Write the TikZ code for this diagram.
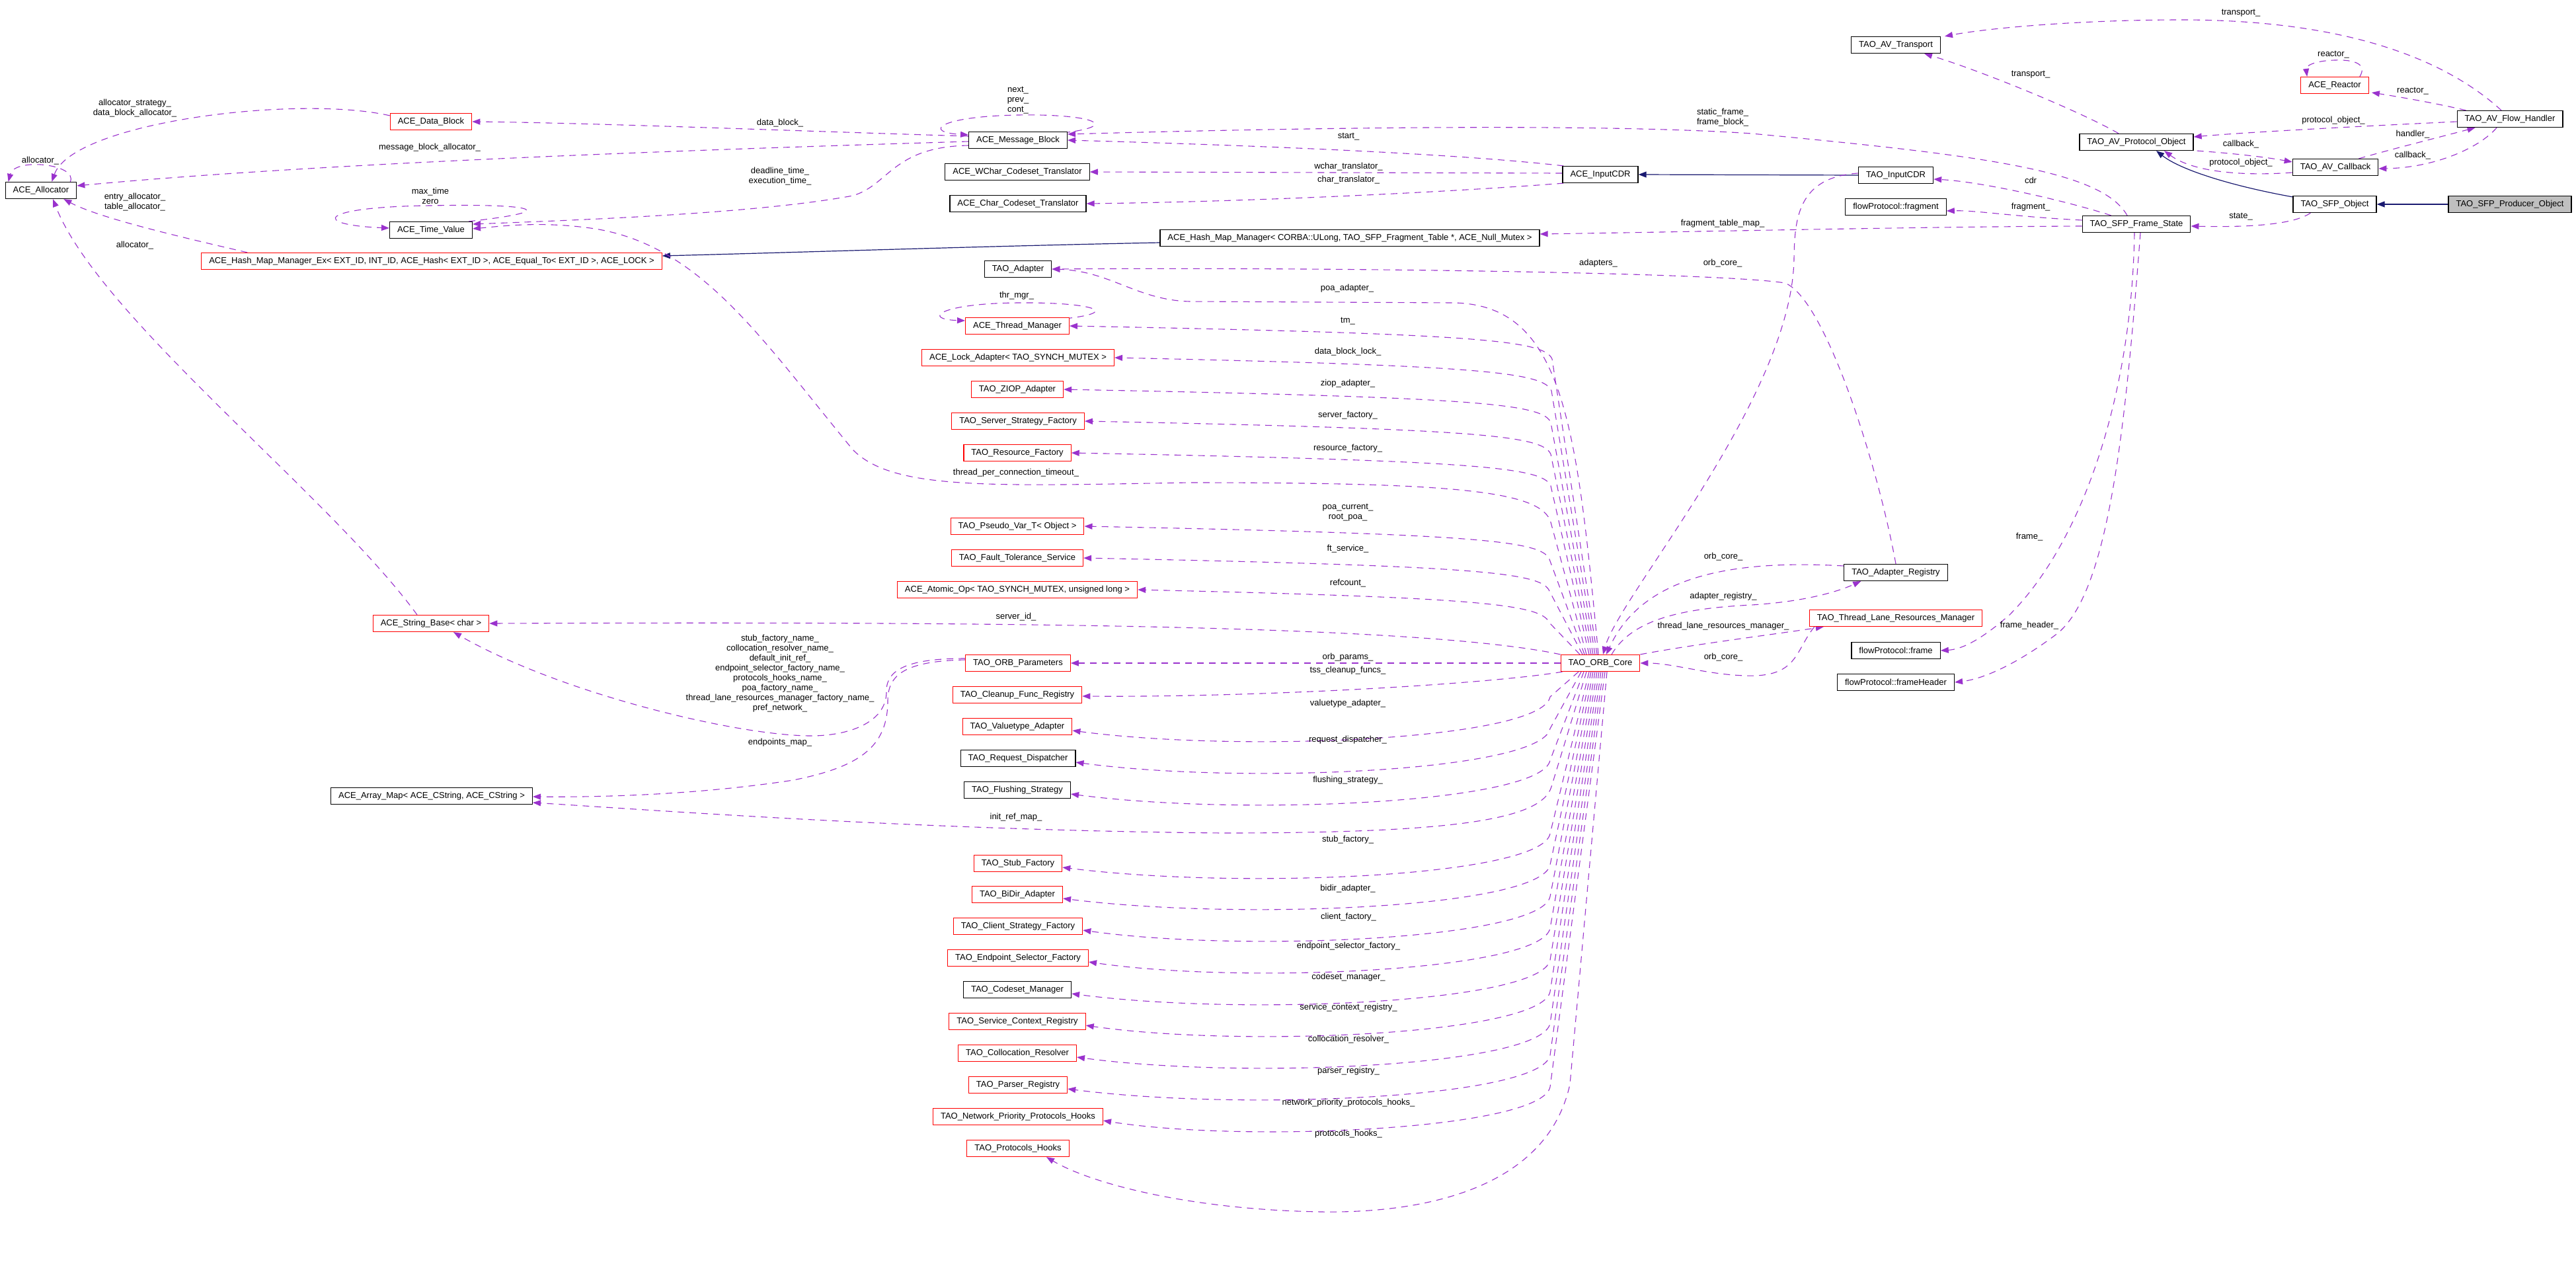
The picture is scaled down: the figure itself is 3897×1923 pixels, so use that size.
\documentclass[tikz,border=0pt]{standalone}
\usepackage{fontspec}
\setmainfont{Liberation Sans}
\usetikzlibrary{%
    arrows.meta,
    backgrounds,
    calc
}
\definecolor{refcol}{HTML}{9A32CD}
\definecolor{inhcol}{HTML}{191970}
\definecolor{focuscol}{HTML}{BFBFBF}

\begin{document}
\begin{tikzpicture}[x=1pt, y=-1pt,
    cls/.style={draw=black, fill=white, line width=1.2pt, minimum height=25pt, inner xsep=11.5pt, inner ysep=2pt, font=\fontsize{13}{15}\selectfont},
    clsred/.style={cls, draw=red},
    clsfocus/.style={cls, fill=focuscol},
    ref/.style={draw=refcol, line width=1.1pt, dash pattern=on 10pt off 8pt, -{Triangle[length=12pt,width=9pt]}},
    inh/.style={draw=inhcol, line width=1.2pt, -{Triangle[length=12pt,width=9pt]}},
    lbl/.style={font=\fontsize{13}{15}\selectfont, align=center, inner sep=0pt}]

      \begin{scope}[on background layer]
        \fill[white] (0,0) rectangle (3897,1923);
      \end{scope}
      \useasboundingbox (0,0) rectangle (3897,1923);

      \node[cls] (alloc) at (62,288) {ACE\_Allocator};
      \node[clsred] (dblock) at (652,184) {ACE\_Data\_Block};
      \node[cls] (tval) at (652,348) {ACE\_Time\_Value};
      \node[clsred] (hmmex) at (653,395) {ACE\_Hash\_Map\_Manager\_Ex< EXT\_ID, INT\_ID, ACE\_Hash< EXT\_ID >, ACE\_Equal\_To< EXT\_ID >, ACE\_LOCK >};
      \node[clsred] (strb) at (652,943) {ACE\_String\_Base< char >};
      \node[cls] (amap) at (653,1204) {ACE\_Array\_Map< ACE\_CString, ACE\_CString >};

      \node[cls] (mblock) at (1540,212) {ACE\_Message\_Block};
      \node[cls] (wct) at (1539,260) {ACE\_WChar\_Codeset\_Translator};
      \node[cls] (cct) at (1540,308) {ACE\_Char\_Codeset\_Translator};
      \node[cls] (adapter) at (1540,407) {TAO\_Adapter};
      \node[clsred] (thrmgr) at (1539,493) {ACE\_Thread\_Manager};
      \node[clsred] (lockad) at (1540,541) {ACE\_Lock\_Adapter< TAO\_SYNCH\_MUTEX >};
      \node[clsred] (ziop) at (1539,589) {TAO\_ZIOP\_Adapter};
      \node[clsred] (ssf) at (1540,637) {TAO\_Server\_Strategy\_Factory};
      \node[clsred] (resf) at (1539,685) {TAO\_Resource\_Factory};
      \node[clsred] (pvar) at (1539,796) {TAO\_Pseudo\_Var\_T< Object >};
      \node[clsred] (fts) at (1539,844) {TAO\_Fault\_Tolerance\_Service};
      \node[clsred] (atomic) at (1539,892) {ACE\_Atomic\_Op< TAO\_SYNCH\_MUTEX, unsigned long >};
      \node[clsred] (params) at (1540,1003) {TAO\_ORB\_Parameters};
      \node[clsred] (cleanup) at (1539,1051) {TAO\_Cleanup\_Func\_Registry};
      \node[clsred] (valad) at (1539,1099) {TAO\_Valuetype\_Adapter};
      \node[cls] (reqd) at (1540,1147) {TAO\_Request\_Dispatcher};
      \node[cls] (flush) at (1539,1195) {TAO\_Flushing\_Strategy};
      \node[clsred] (stubf) at (1540,1306) {TAO\_Stub\_Factory};
      \node[clsred] (bidir) at (1539,1353) {TAO\_BiDir\_Adapter};
      \node[clsred] (csf) at (1540,1401) {TAO\_Client\_Strategy\_Factory};
      \node[clsred] (esf) at (1540,1449) {TAO\_Endpoint\_Selector\_Factory};
      \node[cls] (csm) at (1539,1497) {TAO\_Codeset\_Manager};
      \node[clsred] (scr) at (1539,1545) {TAO\_Service\_Context\_Registry};
      \node[clsred] (colres) at (1539,1593) {TAO\_Collocation\_Resolver};
      \node[clsred] (parser) at (1540,1641) {TAO\_Parser\_Registry};
      \node[clsred] (nphooks) at (1540,1689) {TAO\_Network\_Priority\_Protocols\_Hooks};
      \node[clsred] (phooks) at (1540,1737) {TAO\_Protocols\_Hooks};

      \node[cls] (hmm) at (2042,360) {ACE\_Hash\_Map\_Manager< CORBA::ULong, TAO\_SFP\_Fragment\_Table *, ACE\_Null\_Mutex >};
      \node[clsred] (core) at (2421,1003) {TAO\_ORB\_Core};
      \node[cls] (icdr) at (2421,264) {ACE\_InputCDR};

      \node[cls] (avt) at (2868,68) {TAO\_AV\_Transport};
      \node[cls] (tcdr) at (2868,265) {TAO\_InputCDR};
      \node[cls] (frag) at (2868,313) {flowProtocol::fragment};
      \node[cls] (areg) at (2868,866) {TAO\_Adapter\_Registry};
      \node[clsred] (tlrm) at (2868,935) {TAO\_Thread\_Lane\_Resources\_Manager};
      \node[cls] (frame) at (2868,984) {flowProtocol::frame};
      \node[cls] (fhdr) at (2868,1032) {flowProtocol::frameHeader};

      \node[cls] (apo) at (3232,215) {TAO\_AV\_Protocol\_Object};
      \node[cls] (fstate) at (3232,339) {TAO\_SFP\_Frame\_State};
      \node[clsred] (reactor) at (3532,129) {ACE\_Reactor};
      \node[cls] (avcb) at (3533,253) {TAO\_AV\_Callback};
      \node[cls] (sfpo) at (3532,309) {TAO\_SFP\_Object};
      \node[cls] (avfh) at (3797,180) {TAO\_AV\_Flow\_Handler};
      \node[clsfocus] (prod) at (3797,309) {TAO\_SFP\_Producer\_Object};

      \node[lbl] (l-allocself) at (61,243) {allocator\_};
      \node[lbl] (l-dballoc) at (204,164) {allocator\_strategy\_\\data\_block\_allocator\_};
      \node[lbl] (l-mballoc) at (650,223) {message\_block\_allocator\_};
      \node[lbl] (l-hmalloc) at (204,306) {entry\_allocator\_\\table\_allocator\_};
      \node[lbl] (l-sballoc) at (204,371) {allocator\_};
      \node[lbl] (l-tvself) at (651,296) {max\_time\\zero};
      \node[lbl] (l-dblock) at (1180,186) {data\_block\_};
      \node[lbl] (l-mbself) at (1540,152) {next\_\\prev\_\\cont\_};
      \node[lbl] (l-deadline) at (1180,267) {deadline\_time\_\\execution\_time\_};
      \node[lbl] (l-start) at (2040,207) {start\_};
      \node[lbl] (l-wchar) at (2040,252) {wchar\_translator\_};
      \node[lbl] (l-char) at (2040,272) {char\_translator\_};
      \node[lbl] (l-static) at (2606,178) {static\_frame\_\\frame\_block\_};
      \node[lbl] (l-ftmap) at (2606,338) {fragment\_table\_map\_};
      \node[lbl] (l-adapters) at (2418,398) {adapters\_};
      \node[lbl] (l-cdrcore) at (2606,398) {orb\_core\_};
      \node[lbl] (l-poa) at (2038,436) {poa\_adapter\_};
      \node[lbl] (l-tm) at (2039,486) {tm\_};
      \node[lbl] (l-thrmgr) at (1538,447) {thr\_mgr\_};
      \node[lbl] (l-lock) at (2039,532) {data\_block\_lock\_};
      \node[lbl] (l-ziop) at (2039,580) {ziop\_adapter\_};
      \node[lbl] (l-ssf) at (2039,628) {server\_factory\_};
      \node[lbl] (l-resf) at (2039,678) {resource\_factory\_};
      \node[lbl] (l-timeout) at (1537,715) {thread\_per\_connection\_timeout\_};
      \node[lbl] (l-pvar) at (2039,775) {poa\_current\_\\root\_poa\_};
      \node[lbl] (l-fts) at (2039,830) {ft\_service\_};
      \node[lbl] (l-atomic) at (2039,882) {refcount\_};
      \node[lbl] (l-serverid) at (1537,933) {server\_id\_};
      \node[lbl] (l-params) at (2039,994) {orb\_params\_};
      \node[lbl] (l-cleanup) at (2039,1014) {tss\_cleanup\_funcs\_};
      \node[lbl] (l-valad) at (2039,1064) {valuetype\_adapter\_};
      \node[lbl] (l-reqd) at (2039,1119) {request\_dispatcher\_};
      \node[lbl] (l-flush) at (2039,1180) {flushing\_strategy\_};
      \node[lbl] (l-initref) at (1537,1236) {init\_ref\_map\_};
      \node[lbl] (l-stubf) at (2039,1270) {stub\_factory\_};
      \node[lbl] (l-bidir) at (2039,1344) {bidir\_adapter\_};
      \node[lbl] (l-csf) at (2040,1387) {client\_factory\_};
      \node[lbl] (l-esf) at (2040,1431) {endpoint\_selector\_factory\_};
      \node[lbl] (l-csm) at (2040,1478) {codeset\_manager\_};
      \node[lbl] (l-scr) at (2040,1524) {service\_context\_registry\_};
      \node[lbl] (l-colres) at (2040,1572) {collocation\_resolver\_};
      \node[lbl] (l-parser) at (2040,1620) {parser\_registry\_};
      \node[lbl] (l-nphooks) at (2040,1668) {network\_priority\_protocols\_hooks\_};
      \node[lbl] (l-phooks) at (2040,1715) {protocols\_hooks\_};
      \node[lbl] (l-names) at (1180,1019) {stub\_factory\_name\_\\collocation\_resolver\_name\_\\default\_init\_ref\_\\endpoint\_selector\_factory\_name\_\\protocols\_hooks\_name\_\\poa\_factory\_name\_\\thread\_lane\_resources\_manager\_factory\_name\_\\pref\_network\_};
      \node[lbl] (l-epmap) at (1180,1123) {endpoints\_map\_};
      \node[lbl] (l-regcore) at (2607,842) {orb\_core\_};
      \node[lbl] (l-areg) at (2607,902) {adapter\_registry\_};
      \node[lbl] (l-tlrm) at (2607,947) {thread\_lane\_resources\_manager\_};
      \node[lbl] (l-tlrmcore) at (2607,994) {orb\_core\_};
      \node[lbl] (l-frame) at (3070,812) {frame\_};
      \node[lbl] (l-fhdr) at (3070,946) {frame\_header\_};
      \node[lbl] (l-cdr) at (3072,273) {cdr};
      \node[lbl] (l-frag) at (3072,313) {fragment\_};
      \node[lbl] (l-state) at (3390,328) {state\_};
      \node[lbl] (l-apotr) at (3072,113) {transport\_};
      \node[lbl] (l-fhtr) at (3390,20) {transport\_};
      \node[lbl] (l-reactself) at (3530,83) {reactor\_};
      \node[lbl] (l-fhreact) at (3650,138) {reactor\_};
      \node[lbl] (l-fhpo) at (3530,182) {protocol\_object\_};
      \node[lbl] (l-apocb) at (3390,218) {callback\_};
      \node[lbl] (l-cbpo) at (3390,246) {protocol\_object\_};
      \node[lbl] (l-cbfh) at (3650,203) {handler\_};
      \node[lbl] (l-fhcb) at (3650,235) {callback\_};

      \begin{scope}[on background layer]
      \draw[inh] (prod.west) -- (sfpo.east);
      \draw[inh] ($(sfpo.north west)+(0,2)$) .. controls (3380,282) and (3300,258) .. ($(apo.south)+(30,0)$);
      \draw[inh] (tcdr.west) -- (icdr.east);
      \draw[inh] ($(hmm.west)+(0,7)$) .. controls (1500,372) and (1200,382) .. ($(hmmex.east)+(0,-8)$);

      \draw[ref] ($(alloc.north east)+(-10,0)$) .. controls (118,248) and (22,238) .. ($(alloc.north west)+(5,0)$);
      \draw[ref] ($(tval.north east)+(-6,0)$) .. controls (860,318) and (800,308) .. (650,311) .. controls (480,313) and (470,340) .. ($(tval.west)+(0,-3)$);
      \draw[ref] ($(mblock.north east)+(-6,2)$) .. controls (1700,190) and (1650,172) .. (1540,174) .. controls (1420,176) and (1395,200) .. ($(mblock.west)+(0,-8)$);
      \draw[ref] ($(thrmgr.north east)+(-6,2)$) .. controls (1700,472) and (1650,457) .. (1540,458) .. controls (1420,459) and (1395,483) .. ($(thrmgr.west)+(0,-8)$);
      \draw[ref] ($(reactor.north east)+(-14,0)$) .. controls (3582,96) and (3560,90) .. (3532,91) .. controls (3500,92) and (3488,100) .. ($(reactor.north west)+(10,0)$);

      \draw[ref] ($(dblock.north west)+(0,4)$) .. controls (450,143) and (110,185) .. ($(alloc.north east)+(-38,0)$);
      \draw[ref] ($(mblock.west)+(0,2)$) .. controls (1100,225) and (500,245) .. ($(alloc.east)+(0,-7)$);
      \draw[ref] ($(hmmex.north west)+(70,0)$) .. controls (280,360) and (150,330) .. ($(alloc.south east)+(-20,0)$);
      \draw[ref] ($(strb.north)+(-21,0)$) .. controls (500,750) and (150,480) .. ($(alloc.south)+(18,0)$);
      \draw[ref] ($(mblock.west)+(0,-6)$) .. controls (1200,198) and (900,186) .. (dblock.east);
      \draw[ref] ($(mblock.west)+(0,8)$) .. controls (1350,222) and (1345,280) .. (1290,296) .. controls (1150,322) and (900,332) .. ($(tval.east)+(0,-9)$);

      \draw[ref] ($(icdr.north west)+(2,0)$) .. controls (2200,232) and (1900,220) .. (mblock.east);
      \draw[ref] ($(icdr.west)+(0,-2)$) -- (wct.east);
      \draw[ref] ($(icdr.south west)+(2,0)$) .. controls (2200,290) and (1900,305) .. (cct.east);

      \draw[ref] ($(fstate.north)+(-14,0)$) .. controls (3180,258) and (3000,235) .. (2650,202) .. controls (2400,185) and (1900,195) .. ($(mblock.east)+(0,-9)$);
      \draw[ref] ($(fstate.west)+(0,3)$) .. controls (2900,343) and (2600,350) .. ($(hmm.east)+(0,-6)$);
      \draw[ref] ($(fstate.north west)+(44,0)$) .. controls (3130,305) and (3000,275) .. ($(tcdr.east)+(0,6)$);
      \draw[ref] ($(fstate.west)+(0,-6)$) .. controls (3050,328) and (2990,318) .. ($(frag.east)+(0,6)$);
      \draw[ref] ($(fstate.south)+(-3,0)$) .. controls (3225,600) and (3150,820) .. (3040,930) .. controls (3000,965) and (2970,982) .. (frame.east);
      \draw[ref] ($(fstate.south)+(6,0)$) .. controls (3215,650) and (3190,900) .. (3110,960) .. controls (3050,1005) and (3000,1027) .. (fhdr.east);
      \draw[ref] ($(sfpo.south west)+(27,0)$) .. controls (3470,340) and (3400,344) .. ($(fstate.east)+(0,3)$);

      \draw[ref] ($(apo.north)+(-27,0)$) .. controls (3150,170) and (3000,108) .. ($(avt.south)+(43,0)$);
      \draw[ref] ($(avfh.north)+(-13,0)$) .. controls (3700,90) and (3550,30) .. (3300,30) .. controls (3150,30) and (3010,42) .. ($(avt.north east)+(6,0)$);
      \draw[ref] ($(avfh.north west)+(14,0)$) .. controls (3680,155) and (3620,145) .. ($(reactor.east)+(4,11)$);
      \draw[ref] ($(avfh.west)+(0,4)$) .. controls (3550,192) and (3400,200) .. ($(apo.east)+(0,-8)$);
      \draw[ref] ($(apo.south east)+(5,0)$) .. controls (3380,232) and (3430,238) .. ($(avcb.west)+(0,-8)$);
      \draw[ref] ($(avcb.west)+(0,8)$) .. controls (3400,266) and (3320,262) .. ($(apo.south)+(42,0)$);
      \draw[ref] ($(avcb.north east)+(-30,0)$) .. controls (3620,225) and (3700,205) .. ($(avfh.south west)+(28,0)$);
      \draw[ref] ($(avfh.south)+(-20,0)$) .. controls (3750,225) and (3680,254) .. ($(avcb.east)+(0,2)$);

      \draw[ref] ($(tcdr.west)+(0,-3)$) .. controls (2720,268) and (2715,330) .. (2714,390) .. controls (2712,600) and (2450,900) .. ($(core.north)+(4,0)$);
      \draw[ref] (areg.north) .. controls (2840,700) and (2760,450) .. (2700,428) .. controls (2600,412) and (2000,404) .. (adapter.east);
      \draw[ref] ($(core.north)+(17,0)$) .. controls (2470,935) and (2550,920) .. (2650,915) .. controls (2730,910) and (2780,895) .. ($(areg.south west)+(26,0)$);
      \draw[ref] ($(areg.west)+(0,-10)$) .. controls (2600,845) and (2480,880) .. ($(core.north)+(9,0)$);
      \draw[ref] (core.north east) .. controls (2560,975) and (2680,960) .. ($(tlrm.south west)+(22,0)$);
      \draw[ref] ($(tlrm.south west)+(8,0)$) .. controls (2715,985) and (2720,1025) .. (2640,1022) .. controls (2580,1020) and (2530,1003) .. (core.east);

      \draw[ref] ($(core.north)+(-3,0)$) .. controls (2385,640) and (2365,462) .. (2200,458) -- (1800,456) .. controls (1720,454) and (1680,410) .. (adapter.east);
      \draw[ref] ($(core.north)+(-5,0)$) -- (2348,543) .. controls (2336,515) and (2240,505) .. (thrmgr.east);
      \draw[ref] ($(core.north)+(-8,0)$) -- (2347,591) .. controls (2335,563) and (2240,553) .. (lockad.east);
      \draw[ref] ($(core.north)+(-11,0)$) -- (2346,639) .. controls (2334,611) and (2240,601) .. (ziop.east);
      \draw[ref] ($(core.north)+(-14,0)$) -- (2346,687) .. controls (2334,659) and (2240,649) .. (ssf.east);
      \draw[ref] ($(core.north)+(-17,0)$) -- (2346,735) .. controls (2334,707) and (2240,697) .. (resf.east);
      \draw[ref] ($(core.north)+(-21,0)$) -- (2346,790) .. controls (2332,742) and (2200,730) .. (1800,730) .. controls (1500,735) and (1350,742) .. (1290,680) .. controls (1150,510) and (1060,372) .. (900,346) .. controls (820,334) and (760,342) .. ($(tval.east)+(0,-2)$);
      \draw[ref] ($(core.north)+(-24,0)$) -- (2344,846) .. controls (2332,818) and (2240,808) .. (pvar.east);
      \draw[ref] ($(core.north)+(-27,0)$) -- (2344,894) .. controls (2332,866) and (2240,856) .. (fts.east);
      \draw[ref] ($(core.north)+(-31,0)$) -- (2344,942) .. controls (2332,914) and (2240,904) .. (atomic.east);
      \draw[ref] (core.north west) .. controls (2150,945) and (1500,940) .. (strb.east);

      \draw[ref] (core.west) -- (params.east);
      \draw[ref] ($(core.south west)+(3,0)$) .. controls (2250,1035) and (1900,1055) .. ($(cleanup.east)+(0,2)$);
      \draw[ref] ($(core.south)+(-33,0)$) -- (2345,1054) .. controls (2332,1119) and (1880,1139) .. ($(valad.east)+(0,6)$);
      \draw[ref] ($(core.south)+(-29,0)$) -- (2345,1102) .. controls (2332,1167) and (1880,1187) .. ($(reqd.east)+(0,6)$);
      \draw[ref] ($(core.south)+(-25,0)$) -- (2345,1150) .. controls (2332,1215) and (1880,1235) .. ($(flush.east)+(0,6)$);
      \draw[ref] ($(core.south)+(-21,0)$) -- (2347,1190) .. controls (2332,1240) and (2200,1260) .. (1850,1260) .. controls (1400,1256) and (1000,1226) .. ($(amap.east)+(0,10)$);
      \draw[ref] ($(core.south)+(-17,0)$) -- (2345,1261) .. controls (2332,1326) and (1880,1346) .. ($(stubf.east)+(0,6)$);
      \draw[ref] ($(core.south)+(-14,0)$) -- (2345,1308) .. controls (2332,1373) and (1880,1393) .. ($(bidir.east)+(0,6)$);
      \draw[ref] ($(core.south)+(-11,0)$) -- (2345,1356) .. controls (2332,1421) and (1880,1441) .. ($(csf.east)+(0,6)$);
      \draw[ref] ($(core.south)+(-8,0)$) -- (2345,1404) .. controls (2332,1469) and (1880,1489) .. ($(esf.east)+(0,6)$);
      \draw[ref] ($(core.south)+(-5,0)$) -- (2345,1452) .. controls (2332,1517) and (1880,1537) .. ($(csm.east)+(0,6)$);
      \draw[ref] ($(core.south)+(-2,0)$) -- (2345,1500) .. controls (2332,1565) and (1880,1585) .. ($(scr.east)+(0,6)$);
      \draw[ref] ($(core.south)+(1,0)$) -- (2345,1548) .. controls (2332,1613) and (1880,1633) .. ($(colres.east)+(0,6)$);
      \draw[ref] ($(core.south)+(4,0)$) -- (2345,1596) .. controls (2332,1661) and (1880,1681) .. ($(parser.east)+(0,6)$);
      \draw[ref] ($(core.south)+(7,0)$) -- (2345,1644) .. controls (2332,1709) and (1880,1729) .. ($(nphooks.east)+(0,6)$);
      \draw[ref] ($(core.south)+(10,0)$) -- (2375,1640) .. controls (2340,1800) and (2150,1835) .. (2000,1833) .. controls (1800,1830) and (1650,1790) .. ($(phooks.south)+(43,0)$);

      \draw[ref] ($(params.west)+(0,-7)$) .. controls (1380,996) and (1341,1010) .. (1341,1045) .. controls (1342,1090) and (1290,1112) .. (1230,1113) .. controls (1120,1114) and (850,1050) .. ($(strb.south)+(34,0)$);
      \draw[ref] ($(params.west)+(0,-5)$) .. controls (1370,1000) and (1343,1020) .. (1343,1060) .. controls (1343,1130) and (1300,1160) .. (1200,1180) .. controls (1050,1203) and (900,1206) .. ($(amap.east)+(0,1)$);
      \end{scope}
    \end{tikzpicture}
\end{document}
